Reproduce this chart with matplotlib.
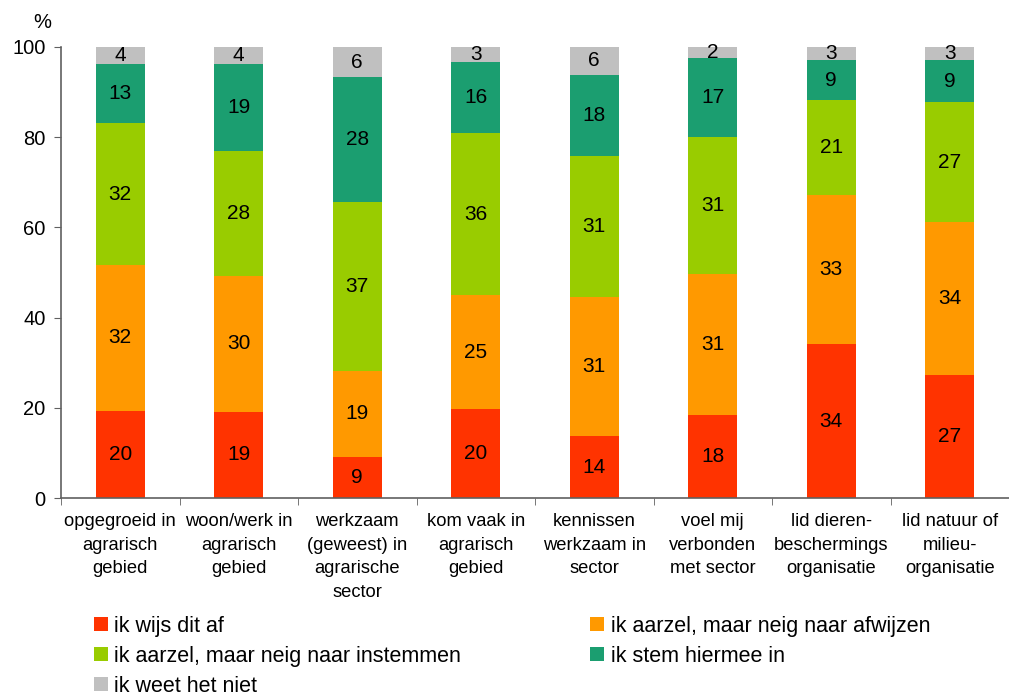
import matplotlib.pyplot as plt
from matplotlib.patches import Patch
import numpy as np

plt.rcParams['font.family'] = ['Liberation Sans', 'DejaVu Sans']

# ===============================
# data
# ===============================
categories = [
    "opgegroeid in\nagrarisch\ngebied",
    "woon/werk in\nagrarisch\ngebied",
    "werkzaam\n(geweest) in\nagrarische\nsector",
    "kom vaak in\nagrarisch\ngebied",
    "kennissen\nwerkzaam in\nsector",
    "voel mij\nverbonden\nmet sector",
    "lid dieren-\nbeschermings\norganisatie",
    "lid natuur of\nmilieu-\norganisatie",
]

series_names = [
    "ik wijs dit af",
    "ik aarzel, maar neig naar afwijzen",
    "ik aarzel, maar neig naar instemmen",
    "ik stem hiermee in",
    "ik weet het niet",
]

# segment heights
wijs_af = [19.3, 19.1, 9.1, 19.7, 13.7, 18.4, 34.1, 27.3]
neig_afwijzen = [32.4, 30.1, 19.1, 25.3, 30.9, 31.3, 33.1, 33.9]
neig_instemmen = [31.4, 27.7, 37.4, 35.9, 31.2, 30.3, 21.0, 26.6]
stem_in = [13.1, 19.3, 27.7, 15.8, 18.0, 17.6, 8.9, 9.3]
weet_niet = [3.8, 3.8, 6.7, 3.3, 6.2, 2.4, 2.9, 2.9]

# printed labels
lbl_wijs_af = [20, 19, 9, 20, 14, 18, 34, 27]
lbl_neig_afwijzen = [32, 30, 19, 25, 31, 31, 33, 34]
lbl_neig_instemmen = [32, 28, 37, 36, 31, 31, 21, 27]
lbl_stem_in = [13, 19, 28, 16, 18, 17, 9, 9]
lbl_weet_niet = [4, 4, 6, 3, 6, 2, 3, 3]

colors = ["#FF3300", "#FF9900", "#99CC00", "#1B9E70", "#C0C0C0"]

series = [wijs_af, neig_afwijzen, neig_instemmen, stem_in, weet_niet]
labels = [lbl_wijs_af, lbl_neig_afwijzen, lbl_neig_instemmen, lbl_stem_in, lbl_weet_niet]

# ===============================
# figure
# ===============================
fig = plt.figure(figsize=(10.09, 6.99), dpi=100)
ax = fig.add_axes([61 / 1009, 1 - 498 / 699, 1 - 61 / 1009, 451 / 699])

x = np.arange(len(categories))
bottom = np.zeros(len(categories))
for vals, lbls, col in zip(series, labels, colors):
    vals = np.array(vals)
    ax.bar(x, vals, width=0.41, bottom=bottom, color=col, linewidth=0)
    for xi, b, v, l in zip(x, bottom, vals, lbls):
        ax.text(xi, b + v / 2, str(l), ha="center", va="center",
                fontsize=15, color="black")
    bottom += vals

ax.set_xlim(-0.5, 7.5 - 10 / 119.7)
ax.set_ylim(0, 100)
ax.set_yticks([0, 20, 40, 60, 80, 100])
ax.tick_params(axis="y", labelsize=14.5, length=5, color="#606060", pad=6)

ax.set_xticks(x)
ax.set_xticklabels(categories, fontsize=13.2, linespacing=1.5)
ax.set_xticks(np.arange(-0.5, 8, 1), minor=True)
ax.tick_params(axis="x", which="major", length=0, pad=11)
ax.tick_params(axis="x", which="minor", length=5, color="#606060")

for s in ["top", "right"]:
    ax.spines[s].set_visible(False)
for s in ["left", "bottom"]:
    ax.spines[s].set_color("#606060")
    ax.spines[s].set_linewidth(1.2)

fig.text(42 / 1009, 1 - 22 / 699, "%", fontsize=14.5, ha="center", va="center")

# legend: column-major ordering so rows read red/orange, green/teal, grey
order = [0, 2, 4, 1, 3]
handles = [Patch(facecolor=colors[i], edgecolor="none") for i in order]
names = [series_names[i] for i in order]
fig.legend(handles, names, ncol=2, loc="upper left",
           bbox_to_anchor=(85 / 1009, 1 - 607 / 699), frameon=False,
           fontsize=15.5, handlelength=0.65, handleheight=0.65, handletextpad=0.3,
           labelspacing=0.42, columnspacing=6.0, borderaxespad=0)

plt.savefig("out.png", dpi=100)
plt.close()
